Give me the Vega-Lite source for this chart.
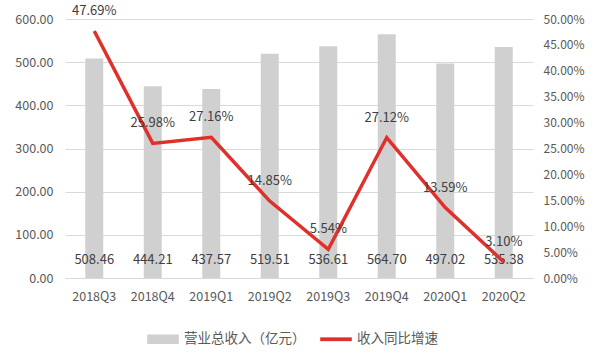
{
  "$schema": "https://vega.github.io/schema/vega-lite/v6.json",
  "width": 468,
  "height": 259,
  "autosize": {"type": "none"},
  "padding": {"left": 65, "top": 19, "right": 69, "bottom": 79},
  "background": "white",
  "config": {
    "font": "Noto Sans CJK SC",
    "view": {"stroke": null},
    "axis": {"labelColor": "#595959", "labelFontSize": 12.5, "ticks": false, "domain": false, "gridColor": "#d9d9d9", "titleColor": "#595959", "labelOverlap": false},
    "legend": {"labelColor": "#595959", "labelFontSize": 13.5}
  },
  "data": {
    "values": [
      {"q": "2018Q3", "rev": 508.46, "g": 0.4769},
      {"q": "2018Q4", "rev": 444.21, "g": 0.2598},
      {"q": "2019Q1", "rev": 437.57, "g": 0.2716},
      {"q": "2019Q2", "rev": 519.51, "g": 0.1485},
      {"q": "2019Q3", "rev": 536.61, "g": 0.0554},
      {"q": "2019Q4", "rev": 564.70, "g": 0.2712},
      {"q": "2020Q1", "rev": 497.02, "g": 0.1359},
      {"q": "2020Q2", "rev": 535.38, "g": 0.0310}
    ]
  },
  "encoding": {
    "x": {"field": "q", "type": "ordinal", "title": null, "sort": null,
      "axis": {"labelAngle": 0, "labelPadding": 12, "domain": true, "domainColor": "#d9d9d9", "labelFontSize": 12.5}}
  },
  "layer": [
    {
      "layer": [
        {
          "mark": {"type": "bar", "size": 18},
          "encoding": {
            "y": {"field": "rev", "type": "quantitative", "title": null,
              "scale": {"domain": [0, 600]},
              "axis": {"values": [0, 100, 200, 300, 400, 500, 600], "format": ".2f", "labelPadding": 12, "orient": "left", "labelOverlap": false}},
            "color": {"datum": "营业总收入（亿元）", "type": "nominal",
              "scale": {"domain": ["营业总收入（亿元）", "收入同比增速"], "range": ["#d0d0d0", "#e0302b"]},
              "legend": {"title": null, "orient": "none", "legendX": 82, "legendY": 304, "direction": "horizontal",
                "symbolSize": 1000, "columnPadding": 14, "labelOffset": 5,
                "symbolStrokeWidth": 0,
                "encode": {"symbols": {"update": {"shape": {"signal": "datum.value === '收入同比增速' ? 'M-1,-0.12H1V0.12H-1Z' : 'M-1,-0.3H1V0.3H-1Z'"}, "strokeWidth": {"value": 0}}}}}}
          }
        },
        {
          "mark": {"type": "text", "fontSize": 13, "color": "#404040", "dy": -18},
          "encoding": {
            "y": {"datum": 0, "type": "quantitative"},
            "text": {"field": "rev", "type": "quantitative", "format": ".2f"}
          }
        }
      ]
    },
    {
      "encoding": {
        "y": {"field": "g", "type": "quantitative", "title": null,
          "scale": {"domain": [0, 0.5]},
          "axis": {"orient": "right", "values": [0, 0.05, 0.1, 0.15, 0.2, 0.25, 0.3, 0.35, 0.4, 0.45, 0.5], "tickCount": 11, "format": ".2%", "grid": false, "labelPadding": 10, "labelOverlap": false, "labelFontSize": 12}}
      },
      "layer": [
        {
          "mark": {"type": "line", "strokeWidth": 3.5},
          "encoding": {
            "color": {"datum": "收入同比增速", "type": "nominal"}
          }
        },
        {
          "mark": {"type": "text", "fontSize": 13, "color": "#404040", "dy": -20},
          "encoding": {
            "text": {"field": "g", "type": "quantitative", "format": ".2%"}
          }
        }
      ]
    }
  ],
  "resolve": {"scale": {"y": "independent"}}
}
